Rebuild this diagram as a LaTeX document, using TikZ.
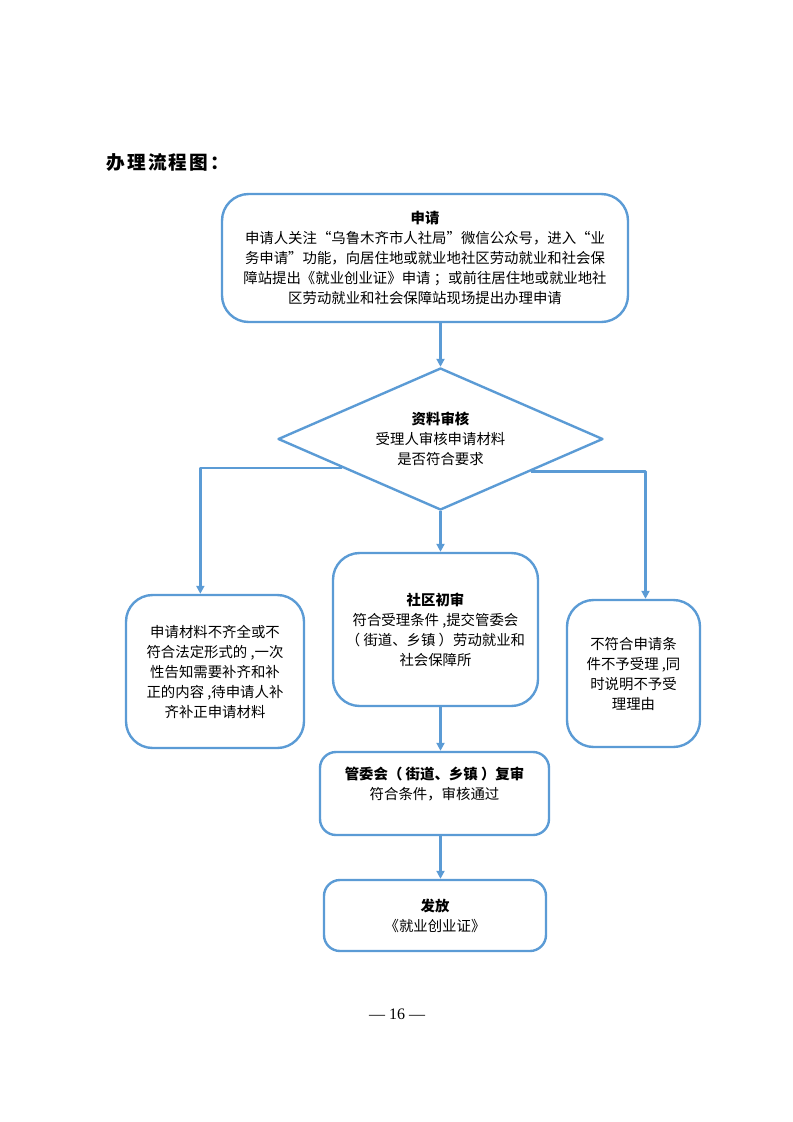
\documentclass[tikz,border=0pt]{standalone}
\usepackage{fontspec}
\setmainfont{Noto Sans CJK SC}
\newfontfamily\yemafont{Liberation Serif}
\usetikzlibrary{shapes.geometric,arrows.meta,calc}
\definecolor{liucheng}{RGB}{91,155,213}
\begin{document}
\begin{tikzpicture}[x=.75pt, y=-.75pt, line join=round, >={Triangle[length=6pt,width=6pt]}]
	\tikzset{kuang/.style={draw=liucheng, line width=1.8pt, rounded corners=20pt, align=center, inner sep=0pt, font=\fontsize{10.8}{15}\selectfont},
		xiaokuang/.style={kuang, rounded corners=12pt},
		lingxing/.style={diamond, aspect=2.29, draw=liucheng, line width=1.8pt, align=center, inner sep=0pt, font=\fontsize{10.8}{15}\selectfont},
		lian/.style={->, draw=liucheng, line width=1.8pt}}
	\useasboundingbox (0,0) rectangle (793,1122);
	\node[anchor=west, font=\fontsize{14}{16}\selectfont\bfseries] (biaoti) at (102,162) {办\hspace{1.5pt}理\hspace{1.5pt}流\hspace{1.5pt}程\hspace{1.5pt}图\hspace{1.5pt}：};
	\node[kuang, minimum width=304.5pt, minimum height=96pt] (shenqing) at (425,258) {\textbf{申请}\\申请人关注“乌鲁木齐市人社局”微信公众号，进入“业\\务申请”功能，向居住地或就业地社区劳动就业和社会保\\障站提出《就业创业证》申请 ；或前往居住地或就业地社\\区劳动就业和社会保障站现场提出办理申请};
	\node[lingxing, minimum width=243.75pt, minimum height=106.5pt] (shenhe) at (440.5,439) {\textbf{资料审核}\\受理人审核申请材料\\是否符合要求};
	\node[kuang, minimum width=133.5pt, minimum height=114.75pt] (buqi) at (215,671.5) {申请材料不齐全或不\\符合法定形式的 ,一次\\性告知需要补齐和补\\正的内容 ,待申请人补\\齐补正申请材料};
	\node[kuang, minimum width=153.75pt, minimum height=114.75pt] (chushen) at (435.5,629.5) {\textbf{社区初审}\\符合受理条件 ,提交管委会\\（ 街道、乡镇 ）劳动就业和\\社会保障所};
	\node[kuang, minimum width=99.75pt, minimum height=110.25pt] (buyu) at (633.5,673.5) {不符合申请条\\件不予受理 ,同\\时说明不予受\\理理由};
	\node[xiaokuang, minimum width=171.75pt, minimum height=62.25pt] (fushen) at (434.5,793.5) {\textbf{管委会（ 街道、乡镇 ）复审}\\符合条件，审核通过\\\mbox{}};
	\node[xiaokuang, minimum width=166.5pt, minimum height=53.25pt] (fafang) at (435,915.5) {\textbf{发放}\\《就业创业证》};
	\node[font=\yemafont\fontsize{12}{14}\selectfont] (yema) at (397,1014) {— 16 —};
	% 连线
	\draw[lian] (shenhe.north |- shenqing.south) -- (shenhe.north);
	\draw[lian] ($(shenhe.west)!.4!(shenhe.south)$) -| ([xshift=-11pt]buqi.north);
	\draw[lian] ($(shenhe.east)!.45!(shenhe.south)$) -| ([xshift=9pt]buyu.north);
	\draw[lian] (shenhe.south) -- (shenhe.south |- chushen.north);
	\draw[lian] (shenhe.south |- chushen.south) -- (shenhe.south |- fushen.north);
	\draw[lian] (shenhe.south |- fushen.south) -- (shenhe.south |- fafang.north);
\end{tikzpicture}
\end{document}
